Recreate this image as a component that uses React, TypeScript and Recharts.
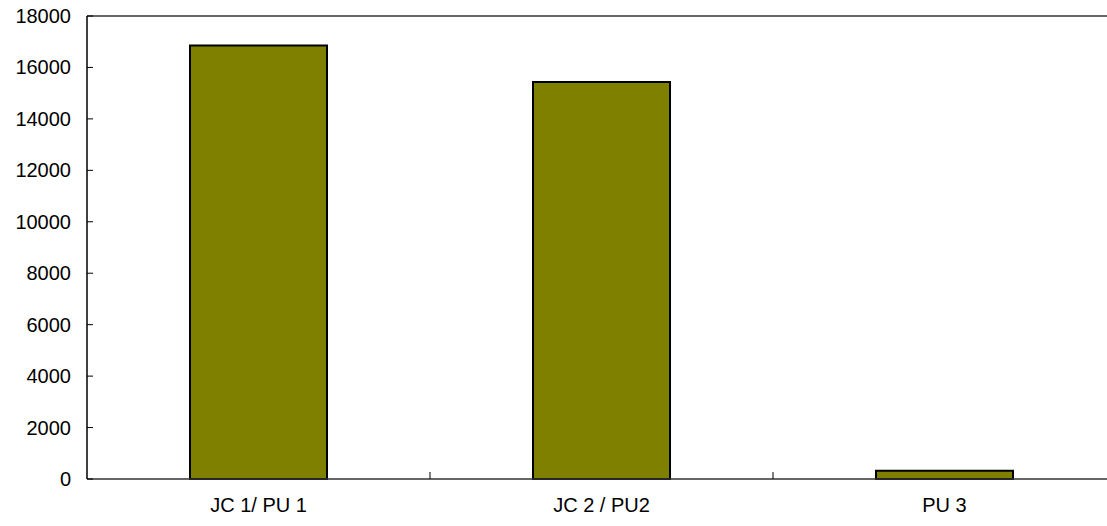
import { BarChart, Bar, XAxis, YAxis, ReferenceLine } from "recharts";

const categories = ["JC 1/ PU 1", "JC 2 / PU2", "PU 3"];
const values = [16850, 15430, 320];
const yTicks = [0, 2000, 4000, 6000, 8000, 10000, 12000, 14000, 16000, 18000];

const data = categories.map((name, i) => ({ name, value: values[i] }));

const W = 1116;
const H = 526;
const Y_AXIS_W = 87;
const X_AXIS_H = 47;
const FONT = "'Liberation Sans', Arial, sans-serif";
const BAND = (W - Y_AXIS_W) / categories.length;

const YTick = (props: any) => {
  const { x, y, payload } = props;
  const ax = x + 16;
  return (
    <g>
      <line x1={ax} x2={ax + 6} y1={y} y2={y} stroke="#000" strokeWidth={1} />
      <text x={x} y={y} dy={7} textAnchor="end" fontSize={20} fontFamily={FONT} fill="#000">
        {payload.value}
      </text>
    </g>
  );
};

const XTick = (props: any) => {
  const { x, y, payload, index } = props;
  return (
    <g>
      {index < categories.length - 1 && (
        <line x1={x + BAND / 2} x2={x + BAND / 2} y1={y} y2={y - 7} stroke="#000" strokeWidth={1} />
      )}
      <text x={x} y={y} dy={33} textAnchor="middle" fontSize={20} fontFamily={FONT} fill="#000">
        {payload.value}
      </text>
    </g>
  );
};

export default function App() {
  return (
    <div style={{ position: "absolute", left: 0, top: 0, width: 1107, height: H, overflow: "hidden", background: "#fff" }}>
      <BarChart
        width={W}
        height={H}
        data={data}
        margin={{ top: 16, right: 0, left: 0, bottom: 0 }}
      >
        <ReferenceLine y={18000} stroke="#333" strokeWidth={1.5} />
        <XAxis
          dataKey="name"
          height={X_AXIS_H}
          tickLine={false}
          tickSize={0}
          tickMargin={0}
          axisLine={{ stroke: "#333", strokeWidth: 1.5 }}
          tick={<XTick />}
          interval={0}
        />
        <YAxis
          width={Y_AXIS_W}
          domain={[0, 18000]}
          ticks={yTicks}
          tickLine={false}
          tickSize={0}
          tickMargin={16}
          axisLine={{ stroke: "#000", strokeWidth: 1.5 }}
          tick={<YTick />}
          interval={0}
        />
        <Bar
          dataKey="value"
          fill="#808000"
          stroke="#000"
          strokeWidth={2}
          barSize={137}
          isAnimationActive={false}
        />
      </BarChart>
    </div>
  );
}
